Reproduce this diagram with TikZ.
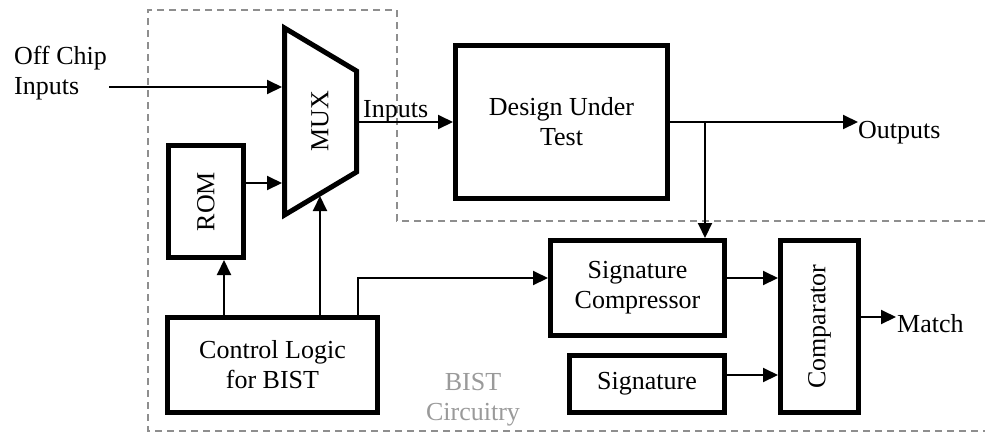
\documentclass[tikz,border=0pt]{standalone}
\usepackage{fontspec}
\setmainfont{Liberation Serif}
\usetikzlibrary{arrows.meta}
\definecolor{bistgray}{HTML}{8E8E8E}
\definecolor{bisttext}{HTML}{9A9A9A}
\tikzset{
  lbl/.style={font=\fontsize{26}{30}\selectfont, inner sep=0pt},
  blk/.style={draw, line width=5pt, lbl, align=center},
  arr/.style={line width=2pt, -{Triangle[length=15pt,width=14pt]}},
  bistline/.style={draw=bistgray, line width=1.5pt, dash pattern=on 7pt off 5pt},
}
\begin{document}
\begin{tikzpicture}[x=1pt, y=-1pt]
\useasboundingbox (0,0) rectangle (985,432);

% BIST boundary
\draw[bistline] (985,221) -- (397,221) -- (397,10) -- (148,10) -- (148,431) -- (985,431);
\node[lbl, text=bisttext, align=center] (bist) at (473,400) {BIST\\Circuitry};

% rows and columns used by the connectors
\coordinate (rowRom)   at (0,183);
\coordinate (rowSig)   at (0,278);
\coordinate (rowSig2)  at (0,375);
\coordinate (rowMatch) at (0,317);
\coordinate (colRom)   at (224,0);
\coordinate (colSel)   at (320,0);
\coordinate (colSC)    at (358,0);
\coordinate (colTap)   at (705,0);

% multiplexer
\draw[line width=5pt] (284.5,28) -- (356.5,71) -- (356.5,172) -- (284.5,215) -- cycle;
\node[lbl, rotate=90] (mux) at (320,121) {MUX};
\coordinate (muxin1) at (282,87);
\coordinate (muxin2) at (282,183);
\coordinate (muxsel) at (320,196);
\coordinate (muxout) at (359,122);

% blocks
\node[blk, minimum width=75pt, minimum height=112pt] (rom) at (206,201.5) {};
\node[lbl, rotate=90] (romtxt) at (rom.center) {ROM};
\node[blk, minimum width=210pt, minimum height=95pt] (ctl) at (272.5,365) {Control Logic\\for BIST};
\node[blk, minimum width=212pt, minimum height=153pt] (dut) at (561.5,122) {Design Under\\Test};
\node[blk, minimum width=174pt, minimum height=95pt] (sc) at (637.5,288) {Signature\\Compressor};
\node[blk, minimum width=155pt, minimum height=57pt] (sig) at (647,384) {Signature};
\node[blk, minimum width=78pt, minimum height=172pt] (cmp) at (819.5,326.5) {};
\node[lbl, rotate=90] (cmptxt) at (cmp.center) {Comparator};

% labels
\node[lbl, align=left, anchor=west] (off) at (14,73) {Off Chip\\Inputs};
\coordinate (offin) at (109,87);
\node[lbl, anchor=base west] (inlbl) at (363,117) {Inputs};
\coordinate (outtip) at (858,122);
\node[lbl, anchor=base west] (outlbl) at (858,138) {Outputs};
\coordinate (matchtip) at (896,317);
\node[lbl, anchor=base west] (matchlbl) at (897,332) {Match};

% connectors
\draw[arr] (offin) -- (muxin1);
\draw[arr] (rom.east |- rowRom) -- (muxin2);
\draw[arr] (ctl.north -| colRom) -- (rom.south -| colRom);
\draw[arr] (ctl.north -| colSel) -- (muxsel);
\draw[arr] (ctl.north -| colSC) |- (sc.west |- rowSig);
\draw[arr] (muxout) -- (dut.west |- muxout);
\draw[arr] (dut.east |- muxout) -- (outtip);
\draw[arr] (colTap |- muxout) -- (sc.north -| colTap);
\draw[arr] (sc.east |- rowSig) -- (cmp.west |- rowSig);
\draw[arr] (sig.east |- rowSig2) -- (cmp.west |- rowSig2);
\draw[arr] (cmp.east |- rowMatch) -- (matchtip);
\end{tikzpicture}
\end{document}
